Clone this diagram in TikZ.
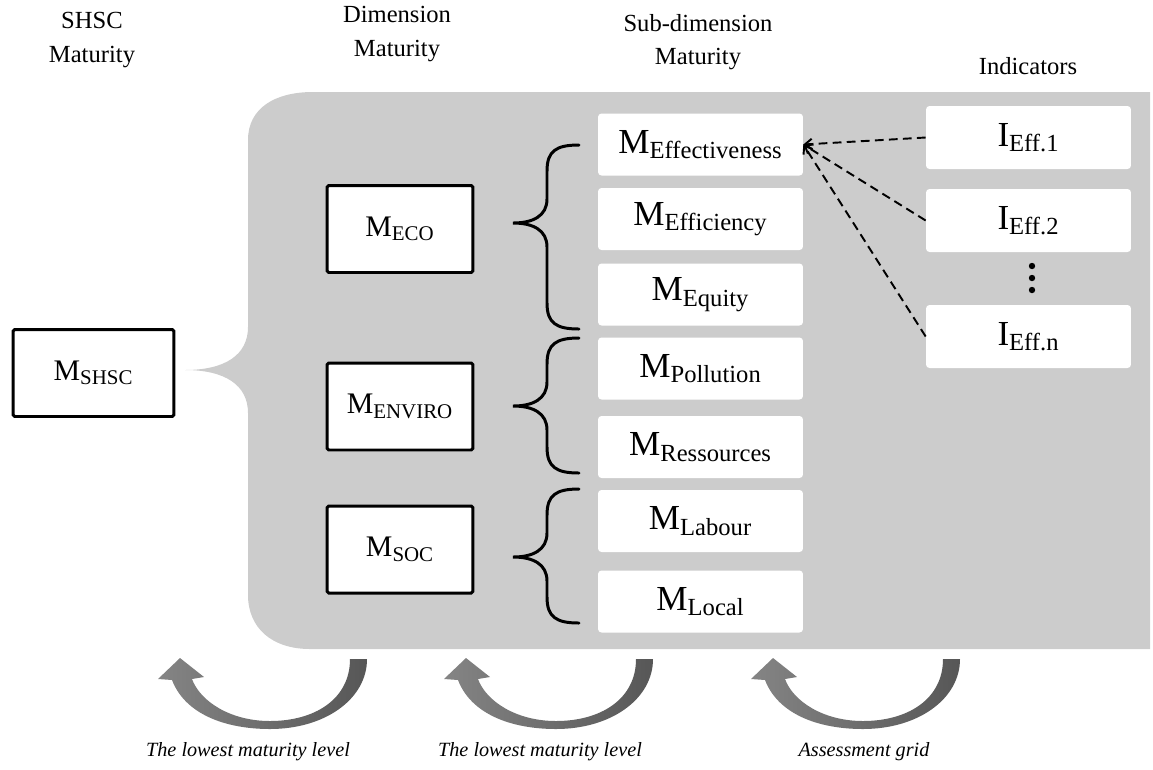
\documentclass[tikz,border=0pt]{standalone}
\usepackage{fontspec}
\setmainfont{Liberation Serif}
\usetikzlibrary{arrows.meta}

\definecolor{panelgray}{RGB}{204,204,204}
\newcommand{\lvl}[2]{#1\textsubscript{#2}}

\begin{document}
\begin{tikzpicture}[x=0.02cm,y=-0.02cm]
    \newcommand{\curlybrace}[3]{\draw[curly] (579,#1) .. controls (556,#1) and (547,#1+6) .. (547,#1+26) -- (547,#2-24) .. controls (547,#2-7) and (533,#2) .. (513,#2) .. controls (533,#2) and (547,#2+7) .. (547,#2+24) -- (547,#3-26) .. controls (547,#3-6) and (556,#3) .. (579,#3);}
    \newcommand{\loopback}[1]{
      \begin{scope}[shift={(#1,729)}]
        \shade[loopfill] (97,-70) -- (80,-70) .. controls (80,-30) and (45,-8) .. (0,-8) .. controls (-40,-8) and (-70,-28) .. (-78,-50) -- (-66,-52) -- (-90,-71) -- (-112,-50) -- (-98,-49) .. controls (-85,-15) and (-45,0) .. (0,0) .. controls (55,0) and (97,-30) .. (97,-70) -- cycle;
      \end{scope}}

    \tikzstyle{head}=[align=center, font=\fontsize{14}{19}\selectfont]
    \tikzstyle{note}=[font=\fontsize{11.5}{14}\selectfont\itshape]
    \tikzstyle{levelbox}=[
      draw=black,
      line width=1.7pt,
      fill=white,
      rounded corners=1pt,
      inner sep=0pt,
      minimum width=2.92cm,
      minimum height=1.74cm,
      font=\fontsize{17}{20}\selectfont,
    ]
    \tikzstyle{topbox}=[
      levelbox,
      minimum width=3.22cm,
    ]
    \tikzstyle{subbox}=[
      fill=white,
      rounded corners=2pt,
      inner sep=0pt,
      minimum width=4.1cm,
      minimum height=1.24cm,
      font=\fontsize{20}{22}\selectfont,
    ]
    \tikzstyle{indbox}=[
      subbox,
      minimum height=1.26cm,
    ]
    \tikzstyle{curly}=[line width=1.7pt, line cap=round]
    \tikzstyle{dline}=[line width=1.1pt, dash pattern=on 5pt off 3pt, -{Straight Barb[length=4pt,width=6pt]}]
    \tikzstyle{loopfill}=[left color=black!48, right color=black!66]

    \useasboundingbox (0,0) rectangle (1153,769);

    % grey background
    \fill[panelgray] (313,92) -- (1150,92) -- (1150,649) -- (310,649)
      .. controls (272,649) and (248,628) .. (248,595) -- (248,413)
      .. controls (248,385) and (225,370) .. (185,370)
      .. controls (225,370) and (248,355) .. (248,327) -- (248,140)
      .. controls (248,108) and (275,92) .. (313,92) -- cycle;

    % column titles
    \node[head] (hshsc) at (92,40) {SHSC\\Maturity};
    \node[head] (hdim) at (397,34) {Dimension\\Maturity};
    \node[head] (hsub) at (698,42) {Sub-dimension\\Maturity};
    \node[head] (hind) at (1028,66) {Indicators};

    % maturity levels
    \node[topbox] (mshsc) at (93.5,373) {\lvl{M}{SHSC}};

    \node[levelbox] (meco) at (400,229) {\lvl{M}{ECO}};
    \node[levelbox] (menviro) at (400,406.5) {\lvl{M}{ENVIRO}};
    \node[levelbox] (msoc) at (400,549.5) {\lvl{M}{SOC}};

    \node[subbox] (meff) at (700.5,144.5) {\lvl{M}{Effectiveness}};
    \node[subbox] (meffi) at (700.5,219) {\lvl{M}{Efficiency}};
    \node[subbox] (mequ) at (700.5,294.5) {\lvl{M}{Equity}};
    \node[subbox] (mpol) at (700.5,368.5) {\lvl{M}{Pollution}};
    \node[subbox] (mres) at (700.5,447) {\lvl{M}{Ressources}};
    \node[subbox] (mlab) at (700.5,521) {\lvl{M}{Labour}};
    \node[subbox] (mloc) at (700.5,601.5) {\lvl{M}{Local}};

    % indicators
    \node[indbox] (ieff1) at (1028.5,137.5) {\lvl{I}{Eff.1}};
    \node[indbox] (ieff2) at (1028.5,220.5) {\lvl{I}{Eff.2}};
    \node[indbox] (ieffn) at (1028.5,336.5) {\lvl{I}{Eff.n}};
    \foreach \y in {266,278,290}
      \fill (1032,\y) circle (3.2);

    % braces
    \curlybrace{145}{223}{329}
    \curlybrace{338}{406}{473}
    \curlybrace{489}{557}{623}

    \draw[dline] (ieff1.west) -- (meff.east);
    \draw[dline] (ieff2.west) -- (meff.east);
    \draw[dline] (ieffn.west) -- (meff.east);

    % aggregation arrows
    \loopback{270}
    \loopback{556}
    \loopback{863}

    \node[note] (low1) at (248,752) {The lowest maturity level};
    \node[note] (low2) at (540,752) {The lowest maturity level};
    \node[note] (grid) at (864,752) {Assessment grid};
\end{tikzpicture}
\end{document}
